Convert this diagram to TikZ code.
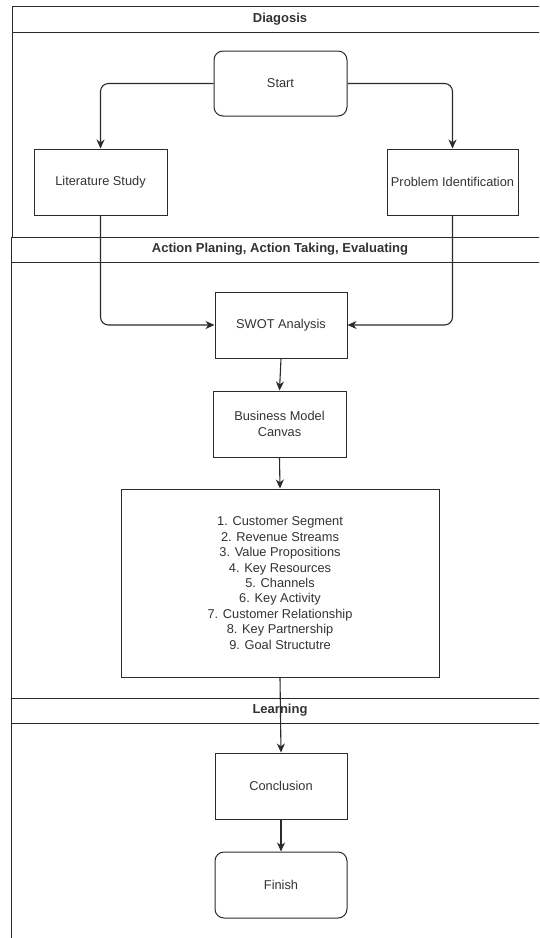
\documentclass[tikz,border=0pt]{standalone}
\usepackage{fontspec}
\setmainfont{Liberation Sans}
\usetikzlibrary{arrows.meta}
\definecolor{ln}{HTML}{2B2B2B}
\definecolor{tx}{HTML}{333333}
\tikzset{
  box/.style={draw=ln, line width=1pt, fill=white, minimum width=132pt, minimum height=66pt,
    inner sep=0pt, align=center, text=tx, font=\fontsize{12.8}{15.4}\selectfont},
  rbox/.style={box, rounded corners=9pt},
  lanehead/.style={text=tx, font=\bfseries\fontsize{13}{15}\selectfont, inner sep=0pt},
  lane/.style={draw=ln, line width=1pt},
  conn/.style={draw=ln, line width=1.1pt, rounded corners=8pt,
    -{Stealth[length=9pt,width=8pt,inset=2.8pt]}},
}
\begin{document}
\begin{tikzpicture}[x=1pt,y=-1pt]
\useasboundingbox (0,0) rectangle (539,938);
\clip (0,0) rectangle (539,938);
\fill[white] (0,0) rectangle (539,938);
% swimlanes
\draw[lane] (560,6) -- (12,6) -- (12,237);
\draw[lane] (12,32) -- (560,32);
\draw[lane] (560,237) -- (11,237) -- (11,698);
\draw[lane] (11,262) -- (560,262);
\draw[lane] (560,698) -- (11,698) -- (11,960);
\draw[lane] (11,723) -- (560,723);
\node[lanehead] (h1) at (280,19) {Diagosis};
\node[lanehead] (h2) at (280,249.5) {Action Planing, Action Taking, Evaluating};
\node[lanehead] (h3) at (280,710.5) {Learning};
% boxes
\node[rbox, minimum width=133pt, minimum height=65pt] (start) at (280.5,83.5) {Start};
\node[box, minimum width=133pt] (lit) at (100.5,182) {Literature Study};
\node[box, minimum width=131pt] (pi) at (452.5,182) {Problem Identification};
\node[box] (swot) at (281,325) {SWOT Analysis};
\node[box, minimum width=133pt] (bmc) at (279.5,424) {Business Model\\Canvas};
\node[box, minimum width=318pt, minimum height=188pt] (big) at (280,583)
  {1. Customer Segment\\2. Revenue Streams\\3. Value Propositions\\4. Key Resources\\5. Channels\\6. Key Activity\\7. Customer Relationship\\8. Key Partnership\\9. Goal Structutre};
\node[box] (concl) at (281,786) {Conclusion};
\node[rbox] (finish) at (281,885) {Finish};
% connectors
\draw[conn] (start.west) -| (lit.north);
\draw[conn] (start.east) -| (pi.north);
\draw[conn] (lit.south) |- (swot.west);
\draw[conn] (pi.south) |- (swot.east);
\draw[conn] (swot.south) -- (bmc.north);
\draw[conn] (bmc.south) -- (big.north);
\draw[conn] (big.south) -- (concl.north);
\draw[conn] (concl.south) -- (finish.north);
\end{tikzpicture}
\end{document}
